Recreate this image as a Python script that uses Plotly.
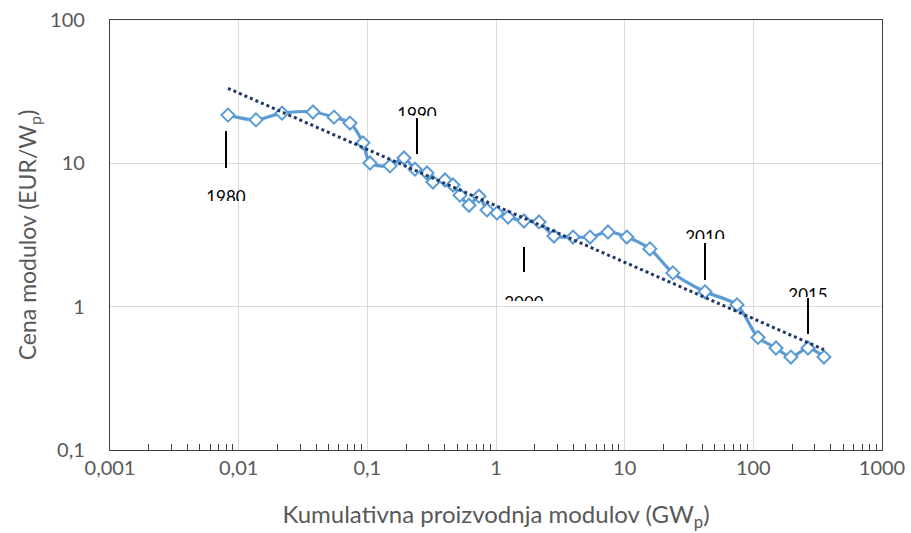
import numpy as np
import plotly.graph_objects as go

# PV module learning curve: cumulative production vs. module price, 1980-2016
years = list(range(1980, 2017))
cum_production_gw = [
    0.00826, 0.01363, 0.02172, 0.03781, 0.0551, 0.0733, 0.0925, 0.1049, 0.150, 0.1927,
    0.2347, 0.2909, 0.3237, 0.4015, 0.4631, 0.5252, 0.6168, 0.7377, 0.851, 1.018,
    1.24, 1.65, 2.16, 2.82, 3.97, 5.38, 7.42, 10.4, 15.7, 23.7,
    42.1, 74.6, 108.7, 150.0, 196.0, 266.0, 354.0,
]
module_price_eur = [
    21.7, 20.1, 22.4, 22.8, 21.0, 19.1, 13.9, 10.05, 9.6, 10.9,
    9.1, 8.56, 7.4, 7.65, 7.06, 6.0, 5.1, 5.9, 4.73, 4.5,
    4.22, 3.96, 3.9, 3.11, 3.06, 3.06, 3.32, 3.06, 2.53, 1.72,
    1.27, 1.03, 0.61, 0.515, 0.445, 0.515, 0.445,
]

x_tick_vals = [0.001, 0.01, 0.1, 1, 10, 100, 1000]
x_tick_text = ["0,001", "0,01", "0,1", "1", "10", "100", "1000"]
y_tick_vals = [0.1, 1, 10, 100]
y_tick_text = ["0,1", "1", "10", "100"]

# Year call-outs: label, x of the leader line, leader line bottom/top (price units),
# price level where the label box ends
callout_labels = ["1980", "1990", "2000", "2010", "2015"]
callout_x = [0.00797, 0.2432, 1.65, 42.1, 266.0]
callout_y_low = [9.28, 11.6, 1.745, 1.535, 0.645]
callout_y_high = [16.8, 20.7, 2.61, 2.78, 1.15]
callout_box_bottom = [5.46, 21.4, 1.095, 2.965, 1.168]
callout_text_shift = [2, 0, -4, 0, 0]  # px, text centre relative to box bottom

BLUE = "#5B9BD5"
NAVY = "#1F3864"
GREY_TXT = "#595959"
FONT = "Lato"

X_LOG_MIN, X_LOG_MAX = -3, 3
Y_LOG_MIN, Y_LOG_MAX = -1, 2
PLOT_W, PLOT_H = 772, 430

fig = go.Figure()

fig.add_trace(go.Scatter(
    x=cum_production_gw, y=module_price_eur, mode="lines+markers",
    line=dict(color=BLUE, width=3.2, shape="spline", smoothing=0.8),
    marker=dict(symbol="diamond", size=10, color="white",
                line=dict(color=BLUE, width=2)),
    showlegend=False, hoverinfo="x+y",
))

# Power-law trend line (least squares in log-log space)
lx = np.log10(cum_production_gw)
ly = np.log10(module_price_eur)
slope, intercept = np.polyfit(lx, ly, 1)
trend_x = np.array([cum_production_gw[0], cum_production_gw[-1]])
trend_y = 10 ** (intercept + slope * np.log10(trend_x))
fig.add_trace(go.Scatter(
    x=trend_x, y=trend_y, mode="lines",
    line=dict(color=NAVY, width=3, dash="dot"),
    showlegend=False, hoverinfo="skip",
))

# Leader lines for the year call-outs
for cx, y0, y1 in zip(callout_x, callout_y_low, callout_y_high):
    fig.add_shape(type="line", xref="x", yref="y", x0=cx, x1=cx, y0=y0, y1=y1,
                  line=dict(color="black", width=2))

# Each year label sits in a small clipped box, as in the original text boxes
layout_extra = {}
box_half_w = 30
box_h = 30
for i, (lab, cx, yb, dy) in enumerate(zip(callout_labels, callout_x,
                                             callout_box_bottom, callout_text_shift)):
    n = i + 2
    fx = (np.log10(cx) - X_LOG_MIN) / (X_LOG_MAX - X_LOG_MIN)
    fy = (np.log10(yb) - Y_LOG_MIN) / (Y_LOG_MAX - Y_LOG_MIN)
    layout_extra[f"xaxis{n}"] = dict(
        domain=[fx - box_half_w / PLOT_W, fx + box_half_w / PLOT_W],
        range=[-box_half_w, box_half_w], anchor=f"y{n}", visible=False, fixedrange=True)
    layout_extra[f"yaxis{n}"] = dict(
        domain=[fy, fy + box_h / PLOT_H],
        range=[0, box_h], anchor=f"x{n}", visible=False, fixedrange=True)
    fig.add_trace(go.Scatter(
        x=[0], y=[dy], xaxis=f"x{n}", yaxis=f"y{n}", mode="text", text=[lab],
        textposition="middle center", cliponaxis=True,
        textfont=dict(family=FONT, size=17, color="black"),
        showlegend=False, hoverinfo="skip",
    ))

minor_x = [m * 10 ** e for e in range(-3, 3) for m in range(2, 10)]

fig.update_layout(
    width=911, height=533,
    margin=dict(l=110, r=29, t=20, b=83),
    paper_bgcolor="white", plot_bgcolor="rgba(0,0,0,0)",
    showlegend=False,
    xaxis=dict(
        type="log", range=[X_LOG_MIN, X_LOG_MAX],
        tickvals=x_tick_vals, ticktext=x_tick_text, ticks="",
        tickfont=dict(family=FONT, size=20, color=GREY_TXT),
        showgrid=True, gridcolor="#D9D9D9", gridwidth=1,
        showline=True, linecolor="#404040", linewidth=1.3, mirror=True,
        zeroline=False,
        minor=dict(tickvals=minor_x, ticks="inside", ticklen=6,
                   tickcolor="#404040", tickwidth=1, showgrid=False),
        title=dict(text="Kumulativna proizvodnja modulov (GW<sub>p</sub>)",
                   font=dict(family=FONT, size=24, color=GREY_TXT), standoff=28),
        automargin=False,
    ),
    yaxis=dict(
        type="log", range=[Y_LOG_MIN, Y_LOG_MAX],
        tickvals=y_tick_vals, ticktext=y_tick_text, ticks="",
        ticklabelstandoff=20,
        tickfont=dict(family=FONT, size=20, color=GREY_TXT),
        showgrid=True, gridcolor="#D9D9D9", gridwidth=1,
        showline=True, linecolor="#404040", linewidth=1.3, mirror=True,
        zeroline=False,
        title=dict(text="Cena modulov (EUR/W<sub>p</sub>)",
                   font=dict(family=FONT, size=23, color=GREY_TXT), standoff=6),
        automargin=False,
    ),
    **layout_extra,
)

fig.write_html("out.html")
